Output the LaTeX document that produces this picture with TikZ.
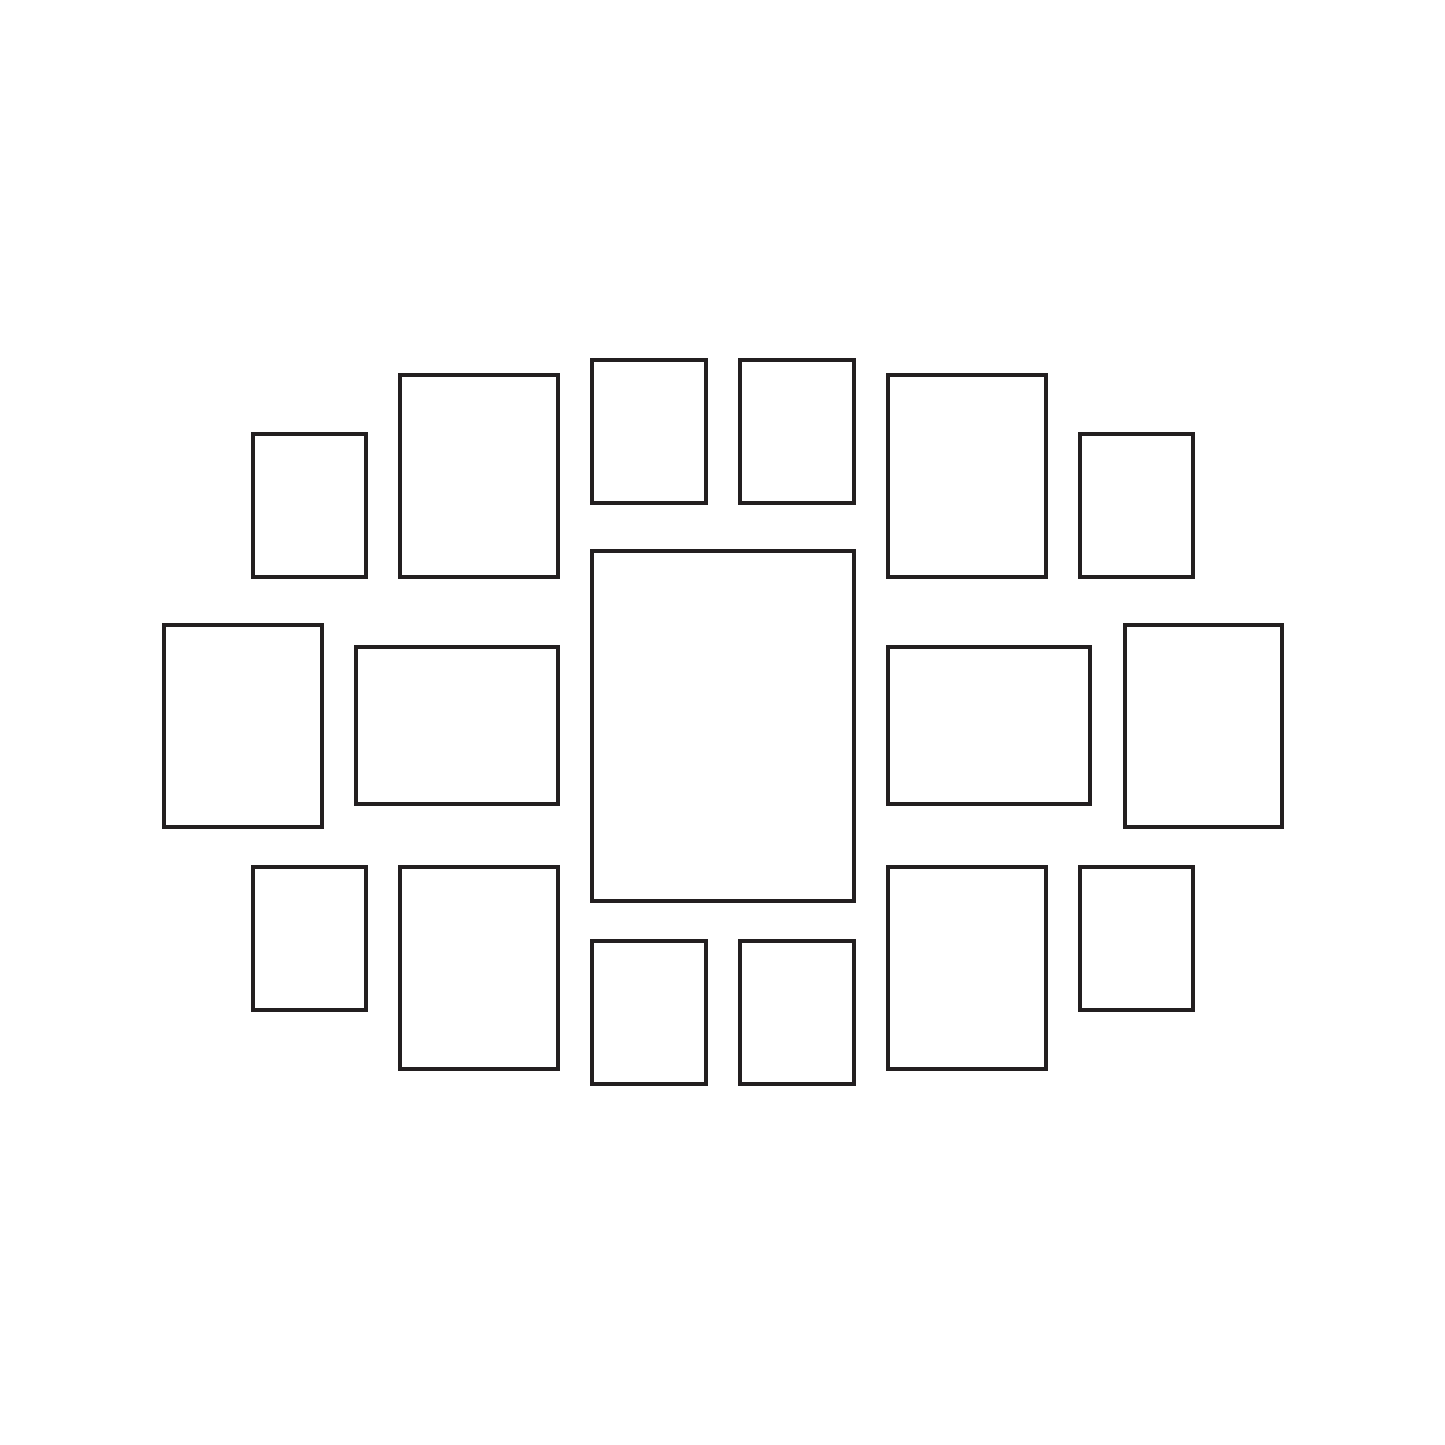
\documentclass[tikz,border=0pt]{standalone}

\definecolor{framecol}{RGB}{35,31,32}
\tikzset{frame/.style={draw=framecol, line width=0.45mm}}

\begin{document}
\begin{tikzpicture}[x=0.1mm,y=-0.1mm]
\useasboundingbox (0,0) rectangle (1445,1445);
% top row
\foreach \xa/\ya/\xb/\yb in {253/434/366/577, 400/375/558/577, 592/360/706/503,
    740/360/854/503, 888/375/1046/577, 1080/434/1193/577}
  \draw[frame] (\xa,\ya) rectangle (\xb,\yb);
% middle row
\foreach \xa/\ya/\xb/\yb in {164/625/322/827, 356/647/558/804, 592/551/854/901,
    888/647/1090/804, 1125/625/1282/827}
  \draw[frame] (\xa,\ya) rectangle (\xb,\yb);
% bottom row
\foreach \xa/\ya/\xb/\yb in {253/867/366/1010, 400/867/558/1069, 592/941/706/1084,
    740/941/854/1084, 888/867/1046/1069, 1080/867/1193/1010}
  \draw[frame] (\xa,\ya) rectangle (\xb,\yb);
\end{tikzpicture}
\end{document}
